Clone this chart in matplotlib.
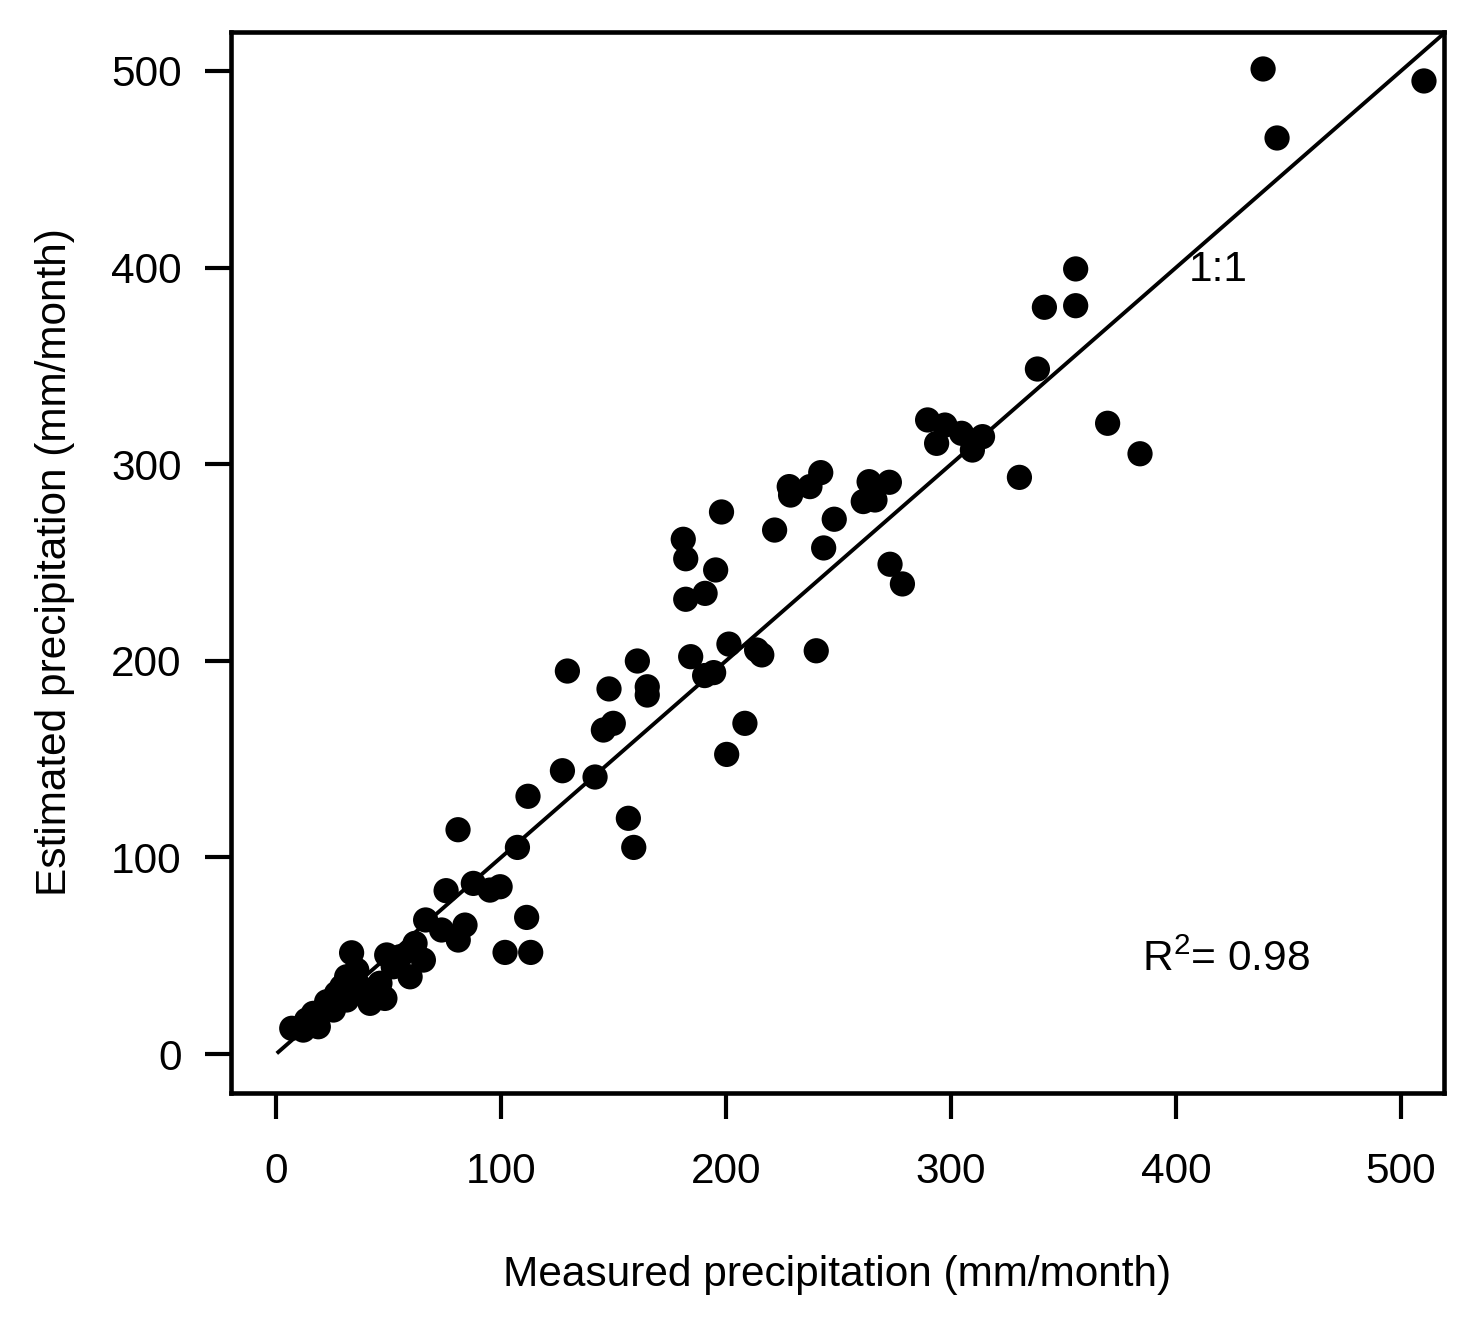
import matplotlib
matplotlib.use("Agg")
import matplotlib.pyplot as plt
import numpy as np

plt.rcParams['font.family'] = ['Liberation Sans', 'DejaVu Sans']
plt.rcParams['mathtext.fontset'] = 'custom'
plt.rcParams['mathtext.rm'] = 'Liberation Sans'
plt.rcParams['mathtext.default'] = 'regular'

measured = [438.7, 510.2, 444.9, 355.4, 341.5, 355.4, 338.4, 369.6, 384.0, 330.4,
            289.6, 297.3, 293.6, 304.7, 314.0, 309.5, 272.6, 263.6, 261.0, 266.2,
            242.1, 237.3, 228.1, 228.7, 248.1, 221.6, 243.4, 272.9, 278.4, 198.0,
            181.0, 182.1, 195.4, 182.1, 190.7, 184.3, 190.5, 194.5, 201.3, 213.6,
            215.9, 240.1, 208.4, 200.3, 129.5, 148.0, 160.6, 165.0, 165.0, 149.9,
            145.5, 127.3, 141.8, 112.0, 80.9, 107.3, 156.6, 159.0, 75.6, 87.7,
            99.6, 95.1, 111.4, 101.8, 113.2, 66.5, 73.6, 84.0, 81.0, 33.6,
            49.2, 61.8, 65.5, 59.6, 55.1, 52.1, 35.9, 46.2, 48.4, 41.8,
            31.4, 29.2, 26.9, 22.5, 16.6, 13.6, 18.8, 7.0, 12.1, 31.4,
            37.3, 25.5]
estimated = [501.0, 494.9, 465.9, 399.3, 379.8, 380.6, 348.4, 320.8, 305.3, 293.3,
             322.5, 319.9, 310.6, 315.7, 314.0, 307.2, 290.8, 291.1, 281.0, 281.8,
             295.7, 288.6, 288.6, 284.3, 272.0, 266.5, 257.4, 249.1, 239.1, 275.7,
             261.8, 251.9, 246.2, 231.3, 234.3, 202.1, 192.5, 194.0, 208.5, 205.5,
             203.0, 205.1, 168.2, 152.4, 194.8, 185.7, 199.9, 186.8, 182.6, 168.2,
             164.8, 144.1, 140.9, 131.1, 114.1, 105.1, 119.9, 105.1, 83.1, 86.8,
             85.1, 83.4, 69.5, 51.7, 51.7, 68.2, 63.1, 65.6, 58.0, 51.5,
             50.4, 56.3, 47.8, 39.3, 49.5, 44.4, 42.7, 36.0, 28.3, 25.8,
             39.3, 34.2, 30.9, 26.6, 20.7, 17.3, 13.9, 13.1, 12.2, 27.5,
             34.2, 22.4]
ticks = [0, 100, 200, 300, 400, 500]
one_to_one = [1, 530]
r2_text = "R$^2$= 0.98"

FS = 30.5

fig = plt.figure(figsize=(14.84, 13.21), dpi=100)
ax = fig.add_axes([231/1484, 1 - 1093/1321, (1444-231)/1484, (1093-32)/1321])

ax.scatter(measured, estimated, s=330, color='black', edgecolors='none', zorder=3)
ax.plot(one_to_one, one_to_one, color='black', lw=2.8, zorder=2)

ax.set_xlim(-20, 519.1)
ax.set_ylim(-19.8, 519.8)
ax.set_xticks(ticks)
ax.set_yticks(ticks)
ax.tick_params(axis='both', direction='out', length=18.5, width=3.0, labelsize=FS)
ax.tick_params(axis='x', pad=24)
ax.tick_params(axis='y', pad=17)
for sp in ax.spines.values():
    sp.set_linewidth(3.3)

ax.set_xlabel('Measured precipitation (mm/month)', fontsize=FS, va='center')
ax.set_ylabel('Estimated precipitation (mm/month)', fontsize=FS, va='center')
ax.xaxis.set_label_coords(0.5, -0.1715)
ax.yaxis.set_label_coords(-0.1451, 0.5)

ax.text(418.7, 398.8, '1:1', fontsize=FS, ha='center', va='center')
ax.text(422, 47.8, r2_text, fontsize=FS, ha='center', va='center')

fig.savefig('out.png', dpi=100)
